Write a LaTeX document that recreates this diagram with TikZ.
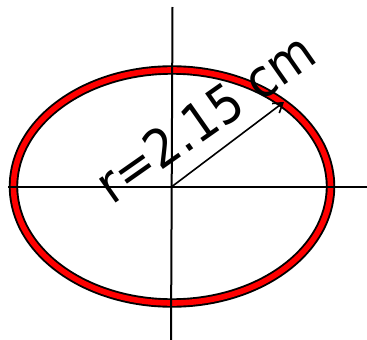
\documentclass[tikz,border=0pt]{standalone}
\usepackage{fontspec}
\setmainfont{DejaVu Sans Condensed}
\usetikzlibrary{arrows.meta}
\tikzset{
  axis/.style={line width=2pt, black},
  rimouter/.style={line width=9.4pt, black},
  riminner/.style={line width=5.6pt, red},
  radius arrow/.style={line width=1.6pt, black, -{Straight Barb[length=9pt,width=12pt,line width=1.6pt]}},
  lbl/.style={font=\fontsize{53}{53}\selectfont, inner sep=0pt, rotate=35, anchor=base west}
}
\begin{document}
\begin{tikzpicture}[x=1pt,y=-1pt]
\useasboundingbox (0,0) rectangle (367,340);
\coordinate (c) at (172,186.5);
\coordinate (top) at (172.5,7);
\coordinate (bot) at (171,340);
\coordinate (left) at (8,186.5);
\coordinate (right) at (367,186.5);
\coordinate (tip) at (284,102);
\draw[rimouter] (c) ellipse [x radius=158.5, y radius=116.5];
\draw[riminner] (c) ellipse [x radius=158.5, y radius=116.5];
\draw[axis] (left) -- (right);
\draw[axis] (top) -- (bot);
\draw[radius arrow] (c) -- (tip);
\node[lbl] (r) at (112,206) {r=2.15 cm};
\end{tikzpicture}
\end{document}
